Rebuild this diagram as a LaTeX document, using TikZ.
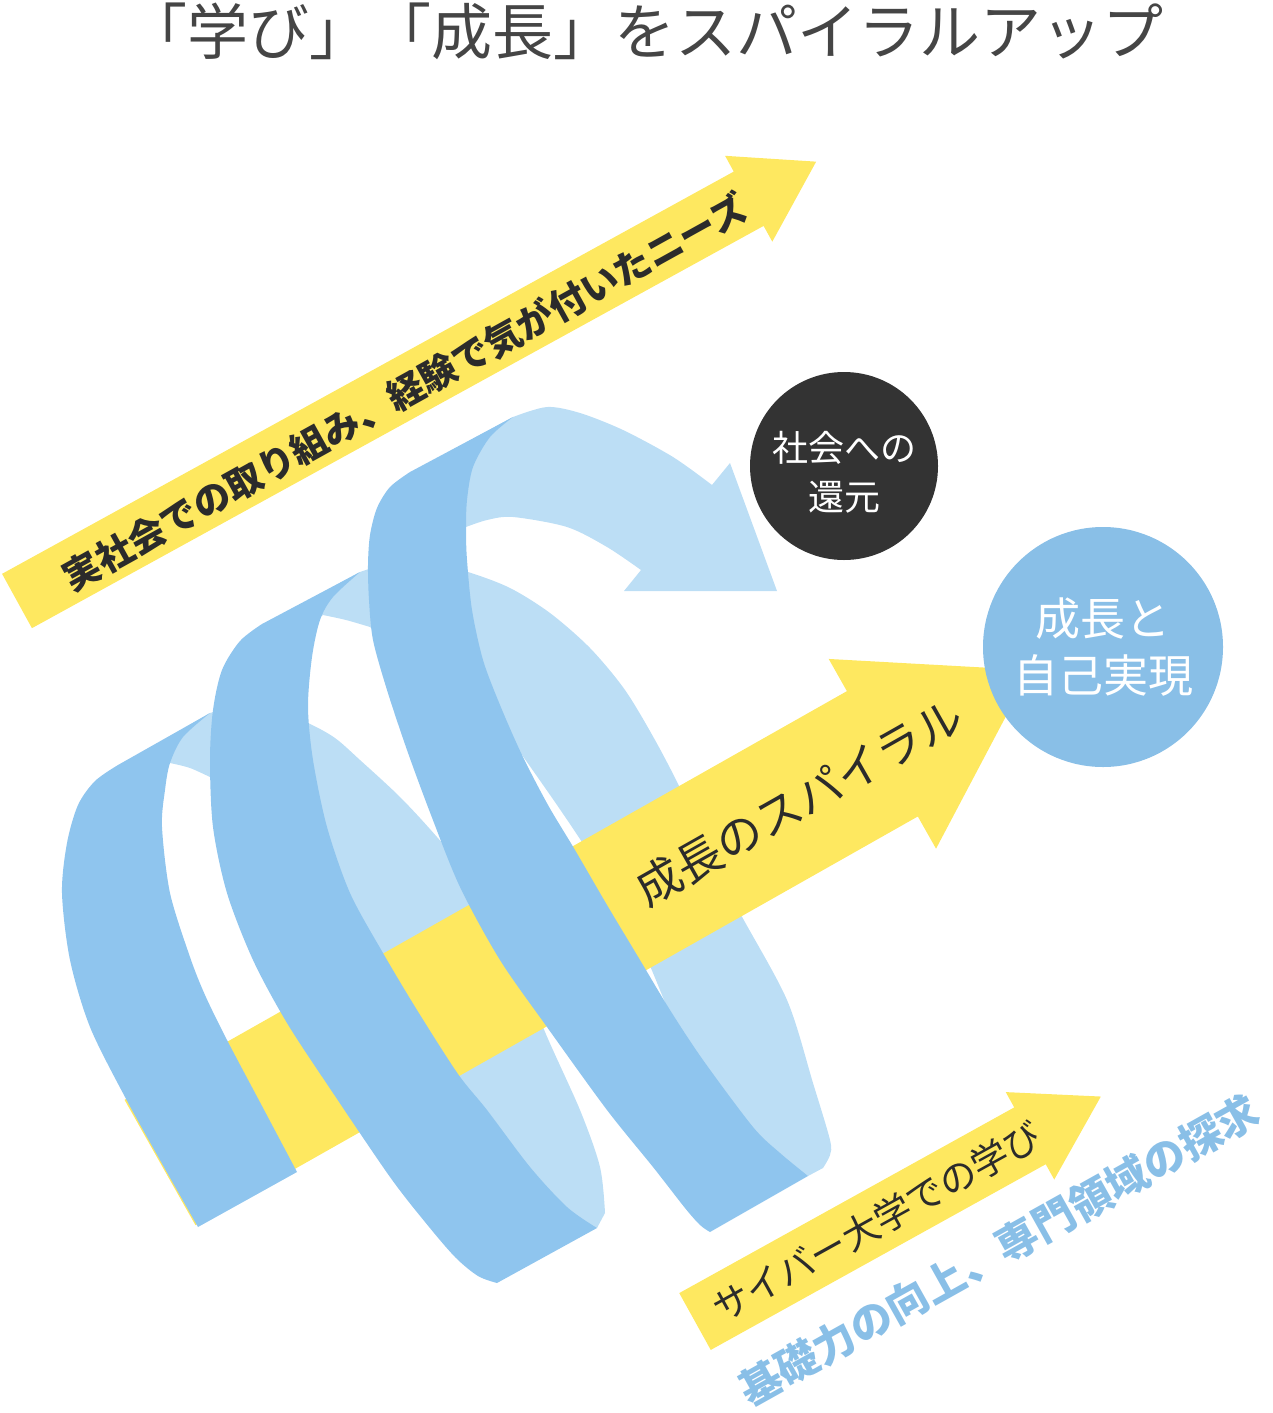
\documentclass[tikz,border=0pt]{standalone}
\usepackage{fontspec}
\newfontfamily\jp{Noto Sans CJK JP}
\usepackage{tikz}

\definecolor{arrowyellow}{HTML}{FEE860}
\definecolor{ribbonfront}{HTML}{8FC5EE}
\definecolor{ribbonback}{HTML}{BCDEF5}
\definecolor{goalblue}{HTML}{89BFE7}
\definecolor{darkgoal}{HTML}{333333}
\definecolor{inktext}{HTML}{2B2B2B}
\definecolor{titlegray}{HTML}{454545}

% broad arrow: tail centre, angle, length, shaft width, head width, head length
\newcommand{\fatarrow}[6]{%
  \begin{scope}[shift={(#1)}, rotate=#2]
    \fill[arrowfill] (0,{-#4/2}) -- ({#3-#6},{-#4/2}) -- ({#3-#6},{-#5/2}) -- (#3,0)
      -- ({#3-#6},{#5/2}) -- ({#3-#6},{#4/2}) -- (0,{#4/2}) -- cycle;
  \end{scope}}

\begin{document}
\begin{tikzpicture}[x=1pt, y=-1pt,
    frontface/.style={fill=ribbonfront},
    backface/.style={fill=ribbonback},
    arrowfill/.style={fill=arrowyellow},
    arrowtext/.style={text=inktext, inner sep=0pt},
    goal/.style={circle, inner sep=0pt, text=white, align=center}]
  \useasboundingbox (0,0) rectangle (1272,1413);

  \node[text=titlegray, font=\jp\fontsize{61}{61}\selectfont] (title) at (645,31) {「学び」「成長」をスパイラルアップ};

  % needs from society
  \fatarrow{17,601}{28.8}{912}{62}{98}{77}
  \node[arrowtext, rotate=29, font=\jp\bfseries\fontsize{37}{37}\selectfont] (needs) at (405,392) {実社会での取り組み、経験で気が付いたニーズ};

  % back faces of the ribbon
  \fill[backface] (150,770)
    -- plot[smooth] coordinates {(170,763) (190,768) (212,778)}
    -- plot[smooth] coordinates {(240,820) (280,900) (330,990) (400,1080) (480,1160) (560,1210) (597,1228)}
    -- plot[smooth] coordinates {(605,1213) (600,1167) (580,1110) (543,1027) (525,970) (490,900) (437,837) (400,797) (360,760) (335,738) (308,723) (270,708) (240,706) (210,713)}
    -- (150,748.5) -- cycle;
  \fill[backface] (310,625)
    -- plot[smooth] coordinates {(323,615) (346,620) (370,627)}
    -- (420,670) -- (480,715)
    -- plot[smooth] coordinates {(522,755) (557,805) (587,850) (616,900) (643,950) (664,1000)}
    -- plot[smooth] coordinates {(690,1060) (740,1130) (785,1163) (808,1176)}
    -- plot[smooth] coordinates {(823,1168) (830,1155) (830,1140) (813,1083) (787,1000) (740,913) (708,850) (681,790) (655,740) (625,690) (590,648) (550,613) (510,588) (468,572) (415,558) (360,572)}
    -- (300,605) -- cycle;
  \fill[backface] (430,520) -- (430,462.5)
    -- plot[smooth] coordinates {(513,417) (547,407) (580,413) (623,430) (673,457) (712,485)}
    -- (730,463) -- (777,591) -- (624,591) -- (641,570)
    -- plot[smooth] coordinates {(641,570) (607,547) (567,527) (513,517) (487,520) (466,527)} -- cycle;

  % growth arrow
  \fatarrow{160,1162.5}{29.5}{1000}{144}{218}{170}
  \node[arrowtext, rotate=29.5, font=\jp\fontsize{46}{46}\selectfont] (spiral) at (799,802) {成長のスパイラル};

  % front faces of the ribbon
  \fill[frontface] (198,1227) -- (297,1172)
    -- plot[smooth] coordinates {(297,1172) (262,1106) (227,1040) (205,995) (190,957) (170,893) (162,827) (165,790) (170,763) (183,737) (210,713)}
    -- plot[smooth] coordinates {(118,765) (95,781) (78,805) (67,843) (62,893) (70,960) (90,1027) (125,1097) (160,1160) (198,1227)} -- cycle;
  \fill[frontface] (497,1283) -- (597,1228)
    -- plot[smooth] coordinates {(597,1228) (567,1207) (530,1167) (487,1110) (458,1074) (417,1010) (383,953) (350,893) (327,827) (313,760) (308,707) (312,657) (320,620) (333,597) (360,572)}
    -- plot[smooth] coordinates {(262,624) (240,641) (222,670) (213,710) (210,760) (213,827) (227,893) (253,960) (287,1023) (333,1093) (390,1177) (425,1222) (455,1257) (478,1276) (497,1283)} -- cycle;
  \fill[frontface] (710,1232) -- (808,1176)
    -- plot[smooth] coordinates {(808,1176) (780,1153) (753,1127) (703,1060) (670,1010) (640,960) (607,905) (575,850) (548,805) (522,755) (500,705) (483,660) (472,610) (467,560) (466,530) (467,500) (473,467) (490,437) (513,417)}
    -- plot[smooth] coordinates {(410,472) (390,487) (377,508) (370,535) (368,565) (369,600) (373,640) (387,690) (407,750) (431,815) (460,887) (500,960) (547,1027) (607,1110) (653,1167) (685,1208) (700,1225) (710,1232)} -- cycle;

  % goals
  \node[goal, fill=darkgoal, minimum size=188] (kangen) at (844,466) {};
  \node[text=white, align=center, inner sep=0pt, font=\jp\fontsize{36}{49}\selectfont] (kangentext) at (844,472) {社会への\\還元};
  \node[goal, fill=goalblue, minimum size=240, font=\jp\fontsize{45}{57}\selectfont] (jiko) at (1103,647) {成長と\\自己実現};

  % study at the university
  \fatarrow{695,1321.5}{29}{464}{65}{100}{81}
  \node[arrowtext, rotate=29, font=\jp\fontsize{37}{37}\selectfont] (study) at (877,1222) {サイバー大学での学び};
  \node[text=goalblue, inner sep=0pt, rotate=29.2, font=\jp\bfseries\fontsize{42}{42}\selectfont] (basics) at (999,1250) {基礎力の向上、専門領域の探求};
\end{tikzpicture}
\end{document}
